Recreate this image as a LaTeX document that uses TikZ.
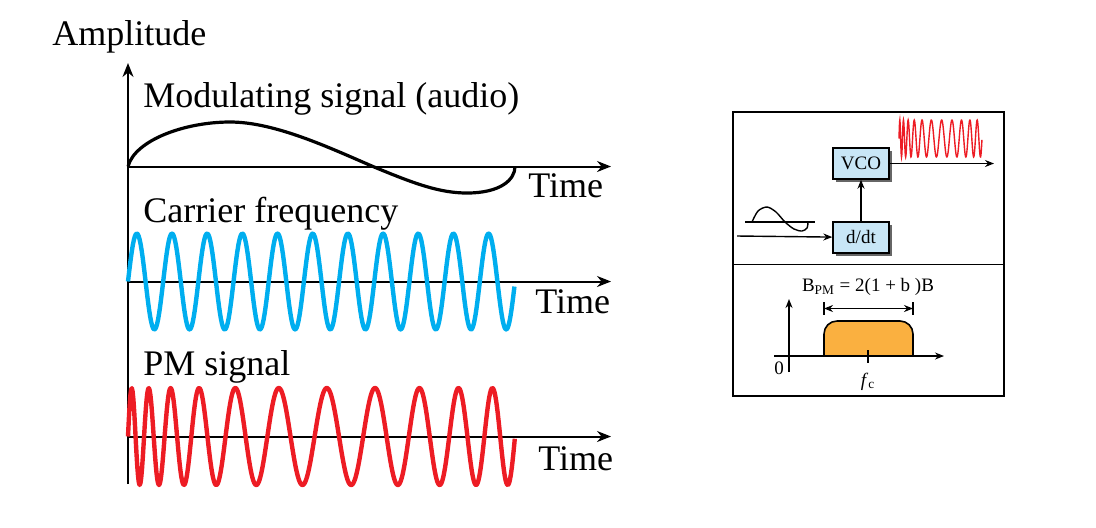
\documentclass[tikz,border=0pt]{standalone}
\usepackage{fontspec}
\setmainfont{Liberation Serif}
\usetikzlibrary{positioning,arrows.meta,shadows}
\definecolor{carrier}{RGB}{0,174,239}
\definecolor{pmred}{RGB}{237,28,36}
\definecolor{boxblue}{RGB}{200,230,246}
\definecolor{band}{RGB}{250,176,64}

\begin{document}
\begin{tikzpicture}[x=0.5pt,y=-0.5pt,
  big/.style={font=\fontsize{18}{21}\selectfont, inner sep=0, anchor=base west},
  lbls/.style={font=\fontsize{9.5}{11}\selectfont, inner sep=0},
  timeaxis/.style={line width=1pt, -{Stealth[length=7pt,width=5.5pt]}},
  conn/.style={line width=0.7pt, -{Stealth[length=4.5pt,width=3.5pt]}},
  blk/.style={draw, line width=0.7pt, fill=boxblue, minimum width=28pt, minimum height=15.5pt, inner sep=0,
    font=\fontsize{9.5}{11}\selectfont, drop shadow={opacity=1, fill=black!60, shadow xshift=1.5pt, shadow yshift=-1.5pt}},
  declare function={dev(\t)=0.803*(1-exp(-\t/0.1))*(1+cos(180*\t))-2.5*\t^3*(1-\t);
    pm(\t)=sin(360*(11*\t+dev(\t)));}]
\useasboundingbox (0,0) rectangle (1096,527);

% signals on the left
\coordinate (amp0) at (128,484);
\coordinate (amp1) at (128,63);
\draw[timeaxis] (amp0) -- (amp1);
\node[big] (amp) at (52,45) {Amplitude};
\foreach \n/\y/\lx/\ly in {1/166.5/528/197, 2/281.5/535/313, 3/436.5/538/470} {
  \coordinate (ta\n) at (128,\y);
  \coordinate (tb\n) at (611,\y);
  \draw[timeaxis] (ta\n) -- (tb\n);
  \node[big] (time\n) at (\lx,\ly) {Time};
}
\node[big] (mod) at (143,107) {Modulating signal (audio)};
\node[big] (car) at (143,222) {Carrier frequency};
\node[big] (pms) at (143,375) {PM signal};
\draw[line width=1.6pt] (128,166.5) .. controls (135,140) and (185,122) .. (230,122)
  .. controls (275,122) and (330,148) .. (373,166.5)
  .. controls (415,184) and (440,193) .. (467,193)
  .. controls (500,193) and (515,180) .. (515,166.5);
\draw[carrier, line width=2.2pt, line join=round] plot[domain=0:1, samples=400] ({128+387*\x}, {281.5-48*sin(3960*\x)});
\draw[pmred, line width=2.2pt, line join=round] plot[domain=0:1, samples=500] ({128+387*\x}, {436.5-48.5*pm(\x)});

% modulator
\draw[line width=0.8pt] (733,112) rectangle (1004,396);
\draw[line width=0.8pt] (733,264.5) -- (1004,264.5);
\node[blk] (vco) at (861,163.5) {VCO};
\node[blk, below=20.75pt of vco] (ddt) {d/dt};
\draw[conn] (ddt) -- (vco);
\coordinate (in) at (737,236);
\draw[conn] (in) -- (ddt);
\coordinate (out) at (994,163.5);
\draw[conn] (vco) -- (out);
\draw[line width=0.6pt] (745,222) -- (815,222);
\draw[line width=0.7pt] plot[smooth] coordinates {(752,222) (758,211) (767,207) (776,212) (785,222) (794,229) (802,231) (807,228) (808,222)};
\draw[pmred, line width=0.7pt] plot[domain=0:1, samples=300] ({899+83*\x}, {138.5-18.5*pm(\x)});

% spectrum
\draw[line width=0.8pt, fill=band] (824,356) [rounded corners=6.5pt] -- (824,321) -- (913,321) [sharp corners] -- (913,356) -- cycle;
\coordinate (f0) at (774,356);
\coordinate (f1) at (944,356);
\draw[conn] (f0) -- (f1);
\coordinate (a0) at (789,372);
\coordinate (a1) at (789,299);
\draw[conn] (a0) -- (a1);
\draw[line width=0.7pt] (868,350) -- (868,363);
\node[lbls] (zero) at (779,368) {0};
\node[lbls] (fc) at (868,382) {\textit{f}\textsubscript{c}};
\node[lbls] (bw) at (868,287) {B\textsubscript{PM} = 2(1 + b )B};
\coordinate (bl) at (824,308.5);
\coordinate (br) at (913,308.5);
\draw[line width=0.6pt] (824,302) -- (824,315) (913,302) -- (913,315);
\draw[conn, {Stealth[length=4.5pt,width=3.5pt]}-{Stealth[length=4.5pt,width=3.5pt]}] (bl) -- (br);
\end{tikzpicture}
\end{document}
